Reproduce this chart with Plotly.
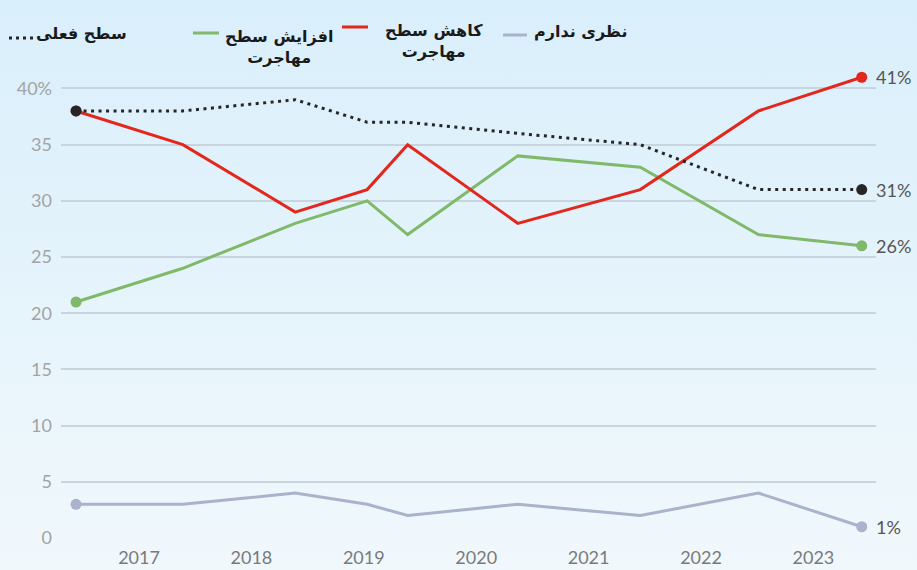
import base64
import plotly.graph_objects as go

# ---- data ----
survey_x = [2016.94, 2017.89, 2018.89, 2019.53, 2019.89, 2020.87, 2021.96, 2023.01, 2023.93]
current_level = [38, 38, 39, 37, 37, 36, 35, 31, 31]          # سطح فعلی
increase = [21, 24, 28, 30, 27, 34, 33, 27, 26]               # افزایش سطح مهاجرت
decrease = [38, 35, 29, 31, 35, 28, 31, 38, 41]               # کاهش سطح مهاجرت
no_opinion = [3, 3, 4, 3, 2, 3, 2, 4, 1]                      # نظری ندارم
year_ticks = [2017.5, 2018.5, 2019.5, 2020.5, 2021.5, 2022.5, 2023.5]
year_labels = ["2017", "2018", "2019", "2020", "2021", "2022", "2023"]
y_ticks = [0, 5, 10, 15, 20, 25, 30, 35, 40]
y_labels = ["0", "5", "10", "15", "20", "25", "30", "35", "40%"]

RED = "#e3271c"
GREEN = "#80b96a"
BLACK = "#262626"
GREY = "#a9b3cc"

W, H = 917, 570
L, R, T, B = 61, 41, 66, 32
PW, PH = W - L - R, H - T - B


def px(xp):
    return (xp - L) / PW


def py(yp):
    return (H - B - yp) / PH


def end_sizes(n, s):
    return [s] + [0] * (n - 2) + [s]


fig = go.Figure()

series = [
    ("نظری ندارم", no_opinion, GREY, "solid", 3),
    ("افزایش سطح مهاجرت", increase, GREEN, "solid", 3),
    ("کاهش سطح مهاجرت", decrease, RED, "solid", 3),
    ("سطح فعلی", current_level, BLACK, "3px,4.5px", 3),
]
for name, vals, col, dash, w in series:
    fig.add_trace(go.Scatter(
        x=survey_x, y=vals, name=name, mode="lines+markers",
        line=dict(color=col, width=w, dash=dash),
        marker=dict(color=col, size=end_sizes(len(vals), 11), opacity=1, line=dict(width=0)),
        showlegend=False, hoverinfo="skip",
    ))

# right end labels
for vals, col in [(decrease, RED), (current_level, BLACK), (increase, GREEN), (no_opinion, GREY)]:
    fig.add_annotation(x=survey_x[-1], y=vals[-1], text=f"{vals[-1]}%", showarrow=False,
                       xanchor="left", yanchor="middle", xshift=12,
                       font=dict(family="Lato, Open Sans, sans-serif", size=18, color="#555555"))

# background gradient
svg = ('<svg xmlns="http://www.w3.org/2000/svg" width="10" height="100" preserveAspectRatio="none">'
       '<defs><linearGradient id="g" x1="0" y1="0" x2="0" y2="1">'
       '<stop offset="0" stop-color="#d9effb"/><stop offset="1" stop-color="#f1f8fc"/>'
       '</linearGradient></defs><rect width="10" height="100" fill="url(#g)"/></svg>')
src = "data:image/svg+xml;base64," + base64.b64encode(svg.encode()).decode()
fig.add_layout_image(dict(source=src, xref="paper", yref="paper", x=px(0), y=py(0),
                          sizex=W / PW, sizey=H / PH, xanchor="left", yanchor="top",
                          sizing="stretch", layer="below"))

# custom legend
leg_font = dict(family="DejaVu Sans, Noto Sans, sans-serif", size=16, color="#1a1a1a")
legend_items = [
    ("<b>سطح فعلی</b>", 81, 33, BLACK, (9, 34, 38), "dot"),
    ("<b>افزایش سطح</b><br><b>مهاجرت</b>", 279, 47, GREEN, (193, 219, 33), "solid"),
    ("<b>کاهش سطح</b><br><b>مهاجرت</b>", 434, 41, RED, (342, 368, 27), "solid"),
    ("<b>نظری ندارم</b>", 580, 31, GREY, (503, 527, 35), "solid"),
]
for text, cx, cy, col, (x0, x1, ly), dash in legend_items:
    fig.add_annotation(xref="paper", yref="paper", x=px(cx), y=py(cy), text=text,
                       showarrow=False, xanchor="center", yanchor="middle", align="center",
                       font=leg_font)
    fig.add_shape(type="line", xref="paper", yref="paper", x0=px(x0), x1=px(x1),
                  y0=py(ly), y1=py(ly),
                  line=dict(color=col, width=3, dash="3px,4px" if dash == "dot" else "solid"))

fig.update_layout(
    width=W, height=H,
    margin=dict(l=L, r=R, t=T, b=B),
    paper_bgcolor="#e6f4fb", plot_bgcolor="rgba(0,0,0,0)",
    xaxis=dict(range=[2016.806, 2024.057], tickvals=year_ticks, ticktext=year_labels,
               showgrid=False, zeroline=False, showline=False, ticks="",
               ticklabelstandoff=7, automargin=False,
               tickfont=dict(family="Lato, Open Sans, sans-serif", size=18, color="#7a7a7a")),
    yaxis=dict(range=[0, 42], tickvals=y_ticks, ticktext=y_labels,
               showgrid=True, gridcolor="#c9d5de", gridwidth=1.5, zeroline=False,
               showline=False, ticks="", ticklabelstandoff=8, automargin=False,
               tickfont=dict(family="Lato, Open Sans, sans-serif", size=18, color="#a3a3a3")),
)

fig.write_html("out.html", config={"displayModeBar": False},
               post_script="document.body.style.margin='0';document.body.style.overflow='hidden';")
